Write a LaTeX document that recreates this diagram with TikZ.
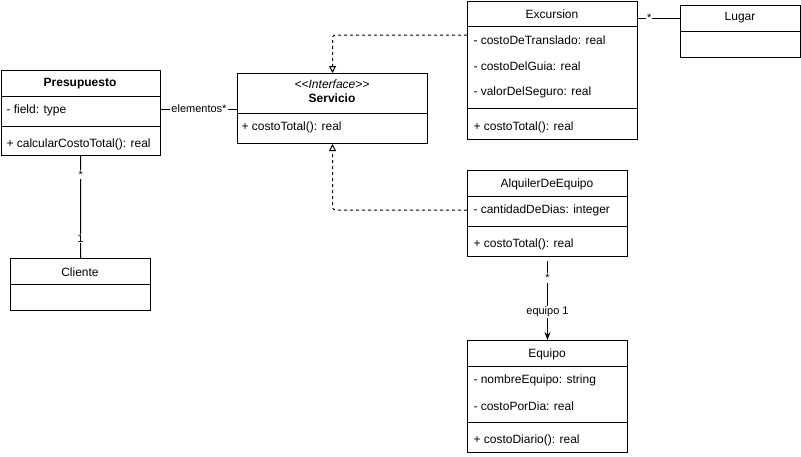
\documentclass[tikz,border=0pt]{standalone}
\usepackage{fontspec}
\setmainfont{Liberation Sans}
\usetikzlibrary{positioning,arrows.meta}

\begin{document}
\begin{tikzpicture}[x=1pt,y=-1pt,line width=1pt,font=\fontsize{12}{14}\selectfont,
                    class box/.style={draw,anchor=north west,inner sep=0pt},
                    row/.style={anchor=west,inner sep=0pt},
                    class title/.style={anchor=center,inner sep=0pt},
                    mult/.style={fill=white,inner sep=1pt,font=\fontsize{11}{13}\selectfont},
                    realize/.style={dashed,rounded corners=3pt,-{Triangle[open,length=7pt,width=7pt]}}]
        \useasboundingbox (0,0) rectangle (801,456);

        % Presupuesto
        \node[class box,minimum width=159.5pt,minimum height=85pt] (presupuesto) at (0.5,70) {};
        \draw (0.5,96) -- (160,96);
        \draw (0.5,126) -- (160,126);
        \node[class title] (presupuestoname) at (80,84) {\bfseries Presupuesto};
        \node[row] (presupuestofield) at (6,110) {- field: type};
        \node[row] (presupuestocalc) at (6,144) {+ calcularCostoTotal(): real};

        % Servicio
        \node[class box,minimum width=190pt,minimum height=70pt] (servicio) at (237,73) {};
        \draw (237,113) -- (427,113);
        \node[class title] (serviciostereo) at (332,84) {\itshape <\kern0pt<Interface>\kern0pt>};
        \node[class title] (servicioname) at (332,98) {\bfseries Servicio};
        \node[row] (serviciocosto) at (241,127) {+ costoTotal(): real};

        % Excursion
        \node[class box,minimum width=170pt,minimum height=138pt] (excursion) at (467,0.5) {};
        \draw (467,26) -- (637,26);
        \draw (467,108) -- (637,108);
        \node[class title] (excursionname) at (552,14) {Excursion};
        \node[row] (excursiontraslado) at (473,40) {- costoDeTranslado: real};
        \node[row] (excursionguia) at (473,66) {- costoDelGuia: real};
        \node[row] (excursionseguro) at (473,92) {- valorDelSeguro: real};
        \node[row] (excursioncosto) at (473,127) {+ costoTotal(): real};

        % Lugar
        \node[class box,minimum width=120pt,minimum height=52pt] (lugar) at (680,5) {};
        \draw (680,31) -- (800,31);
        \node[class title] (lugarname) at (740,18) {Lugar};

        % AlquilerDeEquipo
        \node[class box,minimum width=160pt,minimum height=86pt] (alquiler) at (467,170) {};
        \draw (467,196) -- (627,196);
        \draw (467,226) -- (627,226);
        \node[class title] (alquilername) at (547,184) {AlquilerDeEquipo};
        \node[row] (alquilerdias) at (473,210) {- cantidadDeDias: integer};
        \node[row] (alquilercosto) at (473,244) {+ costoTotal(): real};

        % Cliente
        \node[class box,minimum width=140pt,minimum height=52pt] (cliente) at (10,258) {};
        \draw (10,284) -- (150,284);
        \node[class title] (clientename) at (80,272) {Cliente};

        % Equipo
        \node[class box,minimum width=160pt,minimum height=112pt] (equipo) at (467,340) {};
        \draw (467,366) -- (627,366);
        \draw (467,422) -- (627,422);
        \node[class title] (equiponame) at (547,354) {Equipo};
        \node[row] (equiponombre) at (473,380) {- nombreEquipo: string};
        \node[row] (equipoprecio) at (473,406) {- costoPorDia: real};
        \node[row] (equipodiario) at (473,440) {+ costoDiario(): real};

        % connectors
        \coordinate (excursionout) at (467,35);
        \draw (presupuesto.east |- 0,109) -- node[mult] {elementos*} (servicio.west |- 0,109);
        \draw[realize] (excursionout) -| (servicio.north);
        \draw[realize] (alquiler.west |- alquilerdias) -| (servicio.south);
        \draw (excursion.east |- lugarname) -- node[mult,pos=0.27] {*} (lugar.west |- lugarname);
        \draw (presupuesto.south) -- node[mult,pos=0.18] {*} node[mult,pos=0.81] {1} (cliente.north);
        \draw[shorten <=4pt,-{Stealth[length=8pt,width=6pt]}] (alquiler.south) -- node[mult,pos=0.25] {*} node[mult,pos=0.66] {equipo 1} (equipo.north);
\end{tikzpicture}
\end{document}
